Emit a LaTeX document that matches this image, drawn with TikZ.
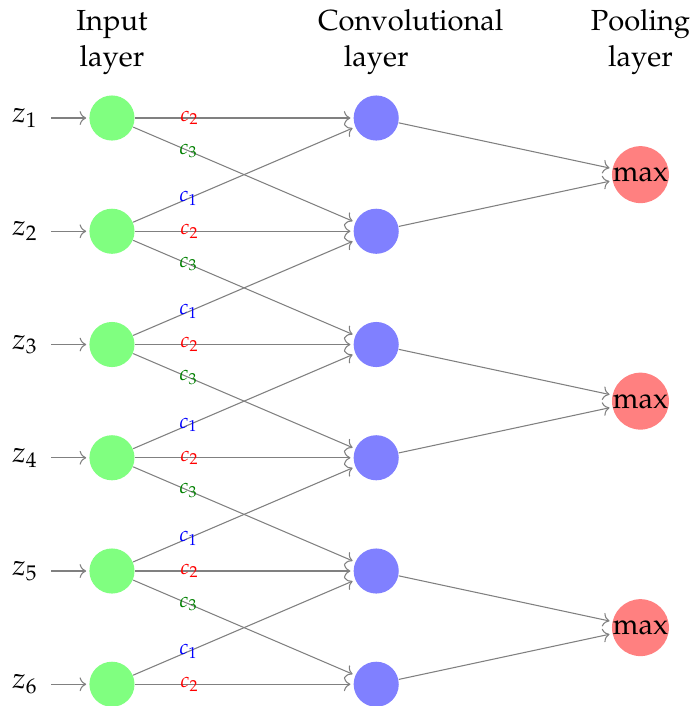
\documentclass[tikz,border=0pt,11pt]{standalone}
\usepackage[T1]{fontenc}
\usepackage{mathpazo}
\usepackage{tikz}
\usetikzlibrary{positioning, arrows.meta}

\begin{document}
\begin{tikzpicture}[
    shorten >=1pt, ->, draw=black!50,
    every pin edge/.style={<-, shorten <=1pt},
    neuron/.style={circle, minimum size=17pt, inner sep=0pt},
    inneuron/.style={neuron, fill=green!50},
    convneuron/.style={neuron, fill=blue!50},
    poolneuron/.style={neuron, fill=red!50},
    annot/.style={text width=4em, text centered},
    wlabel/.style={font=\scriptsize, pos=0.25}
]
    \useasboundingbox (-1.483, 1.563) rectangle (7.669, -7.788);

    % ---------------------------------------------------
    % Input layer
    % ---------------------------------------------------
    \foreach \i in {1,...,6}
        \node[inneuron, pin=left:$z_{\i}$] (I-\i) at (0, {-1.5*(\i-1)}) {};

    % ---------------------------------------------------
    % Convolutional layer
    % ---------------------------------------------------
    \foreach \i in {1,...,6}
        \node[convneuron] (C-\i) at (3.5, {-1.5*(\i-1)}) {};

    % ---------------------------------------------------
    % Pooling layer
    % ---------------------------------------------------
    \foreach \j in {1,2,3}
        \node[poolneuron] (P-\j) at (7, {-3*(\j-1)-0.75}) {max};

    % ---------------------------------------------------
    % Shared weights c1, c2, c3
    % ---------------------------------------------------
    \foreach \i in {1,...,6}
        \path (I-\i) edge node[wlabel, red] {$c_2$} (C-\i);
    \foreach \i [evaluate=\i as \k using int(\i+1)] in {1,...,5}
        \path (I-\i) edge node[wlabel, green!50!black] {$c_3$} (C-\k);
    \foreach \i [evaluate=\i as \k using int(\i-1)] in {2,...,6}
        \path (I-\i) edge node[wlabel, blue] {$c_1$} (C-\k);

    % Max pooling over pairs
    \foreach \i [evaluate=\i as \j using int((\i+1)/2)] in {1,...,6}
        \path (C-\i) edge (P-\j);

    % ---------------------------------------------------
    % Annotations
    % ---------------------------------------------------
    \node[annot] (inlab) at (0, 1) {Input layer};
    \node[annot] (convlab) at (3.5, 1) {Convolutional layer};
    \node[annot] (poollab) at (7, 1) {Pooling layer};

\end{tikzpicture}
\end{document}
